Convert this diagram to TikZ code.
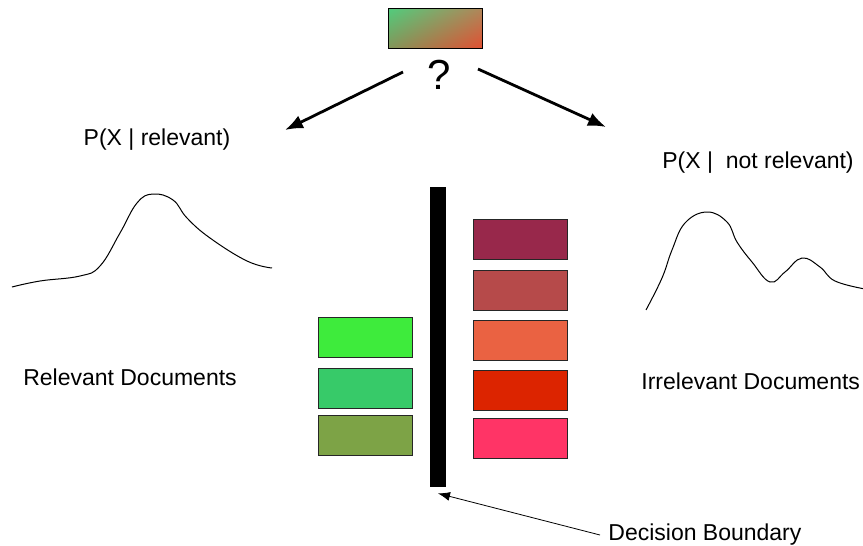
\documentclass[tikz,border=0pt]{standalone}
\usepackage{fontspec}
\setmainfont{Liberation Sans}
\usetikzlibrary{arrows.meta,shadings}
\definecolor{gOne}{RGB}{62,235,60}
\definecolor{gTwo}{RGB}{55,202,105}
\definecolor{gThree}{RGB}{125,163,70}
\definecolor{rOne}{RGB}{152,40,75}
\definecolor{rTwo}{RGB}{182,74,74}
\definecolor{rThree}{RGB}{234,98,66}
\definecolor{rFour}{RGB}{220,36,0}
\definecolor{rFive}{RGB}{255,52,102}
\definecolor{qUL}{RGB}{80,205,125}
\definecolor{qUR}{RGB}{175,135,90}
\definecolor{qLL}{RGB}{130,150,90}
\definecolor{qLR}{RGB}{225,80,50}
\newcommand{\docbox}[3] {\node at (#1) (#2) [docbox, fill=#3] {};}
\newcommand{\lbl}[3] {\node at (#1) (#2) [lbltext] {#3};}

\begin{document}
\begin{tikzpicture}[x=0.5pt, y=-0.5pt,
  docbox/.style={draw=black!85, line width=0.5pt, inner sep=0pt, minimum width=47pt, minimum height=20pt},
  lbltext/.style={font=\fontsize{11.5}{13}\selectfont, inner sep=0pt},
  bigarrow/.style={line width=1.4pt, -{Latex[length=9pt,width=7pt]}},
  thinarrow/.style={line width=0.4pt, -{Latex[length=6pt,width=4.5pt]}}]
\useasboundingbox (0,0) rectangle (863,546);

% query document and question
\shade[upper left=qUL, upper right=qUR, lower left=qLL, lower right=qLR] (388,8) rectangle (482,48);
\node at (435,28) (query) [draw, line width=0.5pt, minimum width=47pt, minimum height=20pt, inner sep=0pt] {};
\node at (439,75) (q) [font=\fontsize{21}{23}\selectfont, inner sep=0pt] {?};
\coordinate (leftend) at (285,130);
\coordinate (rightend) at (606,127);
\draw [bigarrow] (403,72) -- (leftend);
\draw [bigarrow] (478,69) -- (rightend);

\lbl {157,140} {pxrel} {P(X | relevant)};
\lbl {758,163} {pxnot} {P(X |\ \ not relevant)};

% likelihood curves
\draw [line width=0.5pt] plot [smooth, tension=0.7] coordinates {(12,287) (40,281) (80,276) (100,266) (120,233) (137,203) (153,194) (173,200) (187,218) (210,238) (247,261) (272,268)};
\draw [line width=0.5pt] plot [smooth, tension=0.7] coordinates {(646,310) (662,278) (672,250) (685,223) (707,212) (727,222) (737,242) (752,262) (770,282) (785,272) (802,258) (820,267) (835,281) (865,289)};

% documents and boundary
\docbox {365,337} {g1} {gOne};
\docbox {365,388} {g2} {gTwo};
\docbox {365,435} {g3} {gThree};
\docbox {520,239} {r1} {rOne};
\docbox {520,290} {r2} {rTwo};
\docbox {520,340} {r3} {rThree};
\docbox {520,390} {r4} {rFour};
\docbox {520,438} {r5} {rFive};
\node at (438,337) (bar) [fill=black, inner sep=0pt, minimum width=8pt, minimum height=150pt] {};

\lbl {130,377} {reldocs} {Relevant Documents};
\node at (641,381) (irrdocs) [lbltext, anchor=west] {Irrelevant Documents};
\node at (608,535) (dec) [lbltext, anchor=west] {Decision Boundary};
\draw [thinarrow] ([xshift=-4pt]dec.west) -- ([yshift=-3pt]bar.south);
\end{tikzpicture}
\end{document}
